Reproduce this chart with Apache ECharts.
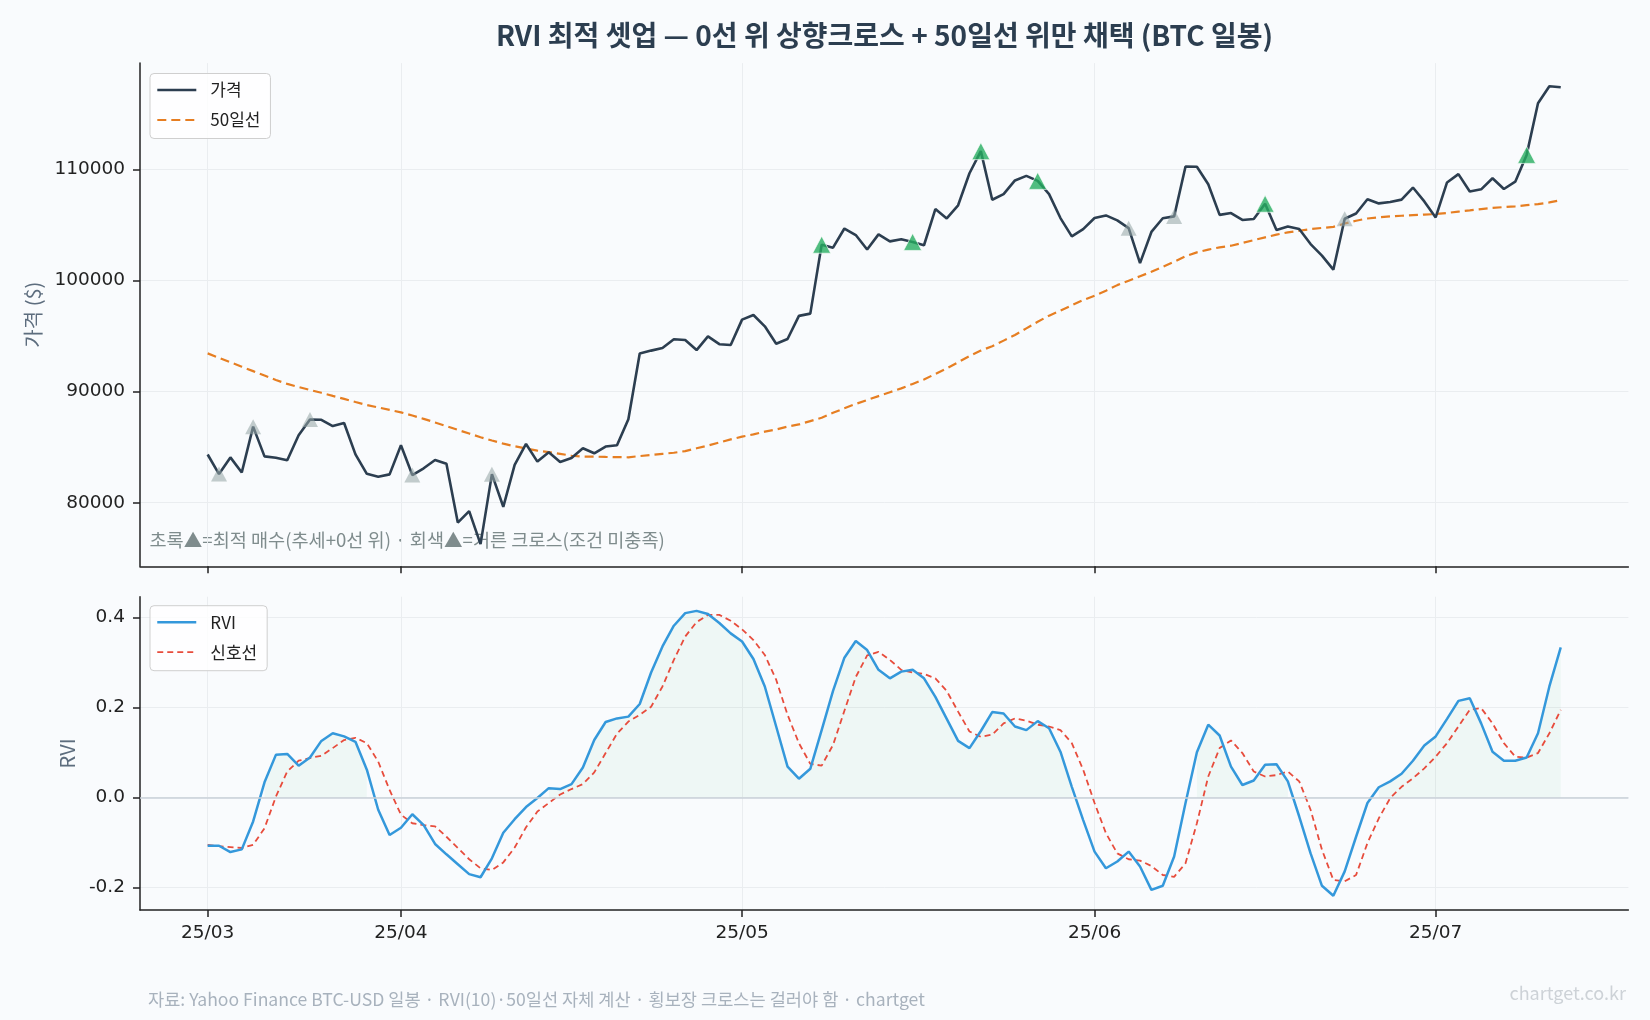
<!DOCTYPE html>
<html>
<head>
<meta charset="utf-8">
<script src="https://cdn.jsdelivr.net/npm/echarts@6/dist/echarts.min.js"></script>
<style>
html, body { margin: 0; padding: 0; background: #f9fbfd; }
#chart { width: 1650px; height: 1020px; }
</style>
</head>
<body>
<div id="chart"></div>
<script>
// x축은 일자 인덱스 (0 = 3/15 ... 119 = 7/12)
const tickPos = [0, 17, 47, 78, 108];
const tickLabels = ['25/03', '25/04', '25/05', '25/06', '25/07'];
const priceTicks = [80000, 90000, 100000, 110000];
const rviTicks = [-0.2, 0, 0.2, 0.4];

const price = [
  84340, 82580, 84080, 82720, 86850, 84170, 84050, 83830, 86080, 87500, 87470, 86900, 87180, 84350, 82600, 82330, 82550,
  85170, 82490, 83100, 83840, 83500, 78210, 79240, 76270, 82570, 79630, 83400, 85290, 83700, 84540, 83670,
  84030, 84900, 84450, 85060, 85170, 87520, 93440, 93700, 93940, 94720, 94650, 93750, 94980, 94280, 94210,
  96490, 96910, 95890, 94320, 94750, 96830, 97030, 103240, 102970, 104700, 104110, 102810, 104170, 103540, 103740,
  103490, 103190, 106450, 105610, 106790, 109680, 111670, 107290, 107790, 109030, 109440, 108990, 107800, 105640, 103990, 104640,
  105650, 105880, 105430, 104730, 101580, 104390, 105620, 105790, 110290, 110260, 108690, 105930, 106090, 105470, 105550,
  106930, 104560, 104880, 104660, 103300, 102260, 100990, 105580, 106050, 107340, 106960, 107090, 107300, 108390, 107140,
  105700, 108850, 109600, 108030, 108230, 109230, 108260, 108920, 111330, 115990, 117520, 117420
];

const ma50 = [
  93450, 93050, 92650, 92250, 91850, 91450, 91050, 90700, 90420, 90150, 89900, 89620, 89350, 89070, 88800, 88580, 88360,
  88140, 87850, 87550, 87230, 86900, 86560, 86230, 85900, 85600, 85320, 85080, 84880, 84690, 84550, 84400,
  84230, 84150, 84150, 84120, 84100, 84090, 84200, 84300, 84400, 84500, 84650, 84900, 85150, 85420, 85700,
  85950, 86150, 86400, 86600, 86850, 87050, 87350, 87650, 88100, 88500, 88900, 89250, 89600, 89950, 90300,
  90700, 91100, 91600, 92100, 92650, 93200, 93700, 94100, 94600, 95100, 95700, 96300, 96850, 97300, 97780, 98250,
  98650, 99100, 99600, 100000, 100400, 100800, 101250, 101700, 102200, 102550, 102800, 103000, 103150, 103400, 103650,
  103900, 104150, 104350, 104500, 104650, 104750, 104850, 105150, 105400, 105600, 105700, 105800, 105850, 105900, 105950,
  106000, 106100, 106220, 106330, 106450, 106550, 106630, 106700, 106800, 106900, 107050, 107250
];

const rvi = [
  -0.107, -0.107, -0.121, -0.115, -0.053, 0.034, 0.095, 0.097, 0.071, 0.089, 0.126, 0.143, 0.136, 0.124, 0.062, -0.027, -0.083,
  -0.067, -0.037, -0.061, -0.103, -0.126, -0.148, -0.170, -0.177, -0.135, -0.078, -0.048, -0.021, -0.001, 0.021, 0.019,
  0.030, 0.067, 0.128, 0.168, 0.176, 0.180, 0.208, 0.278, 0.336, 0.382, 0.410, 0.415, 0.408, 0.388, 0.365,
  0.347, 0.308, 0.247, 0.158, 0.069, 0.042, 0.064, 0.150, 0.237, 0.311, 0.348, 0.328, 0.284, 0.265, 0.280,
  0.284, 0.265, 0.224, 0.175, 0.126, 0.110, 0.148, 0.190, 0.187, 0.158, 0.150, 0.170, 0.154, 0.102, 0.024, -0.050,
  -0.120, -0.157, -0.142, -0.120, -0.153, -0.205, -0.196, -0.131, -0.012, 0.101, 0.162, 0.138, 0.069, 0.028, 0.038,
  0.073, 0.074, 0.036, -0.042, -0.124, -0.196, -0.218, -0.164, -0.087, -0.012, 0.023, 0.036, 0.053, 0.082, 0.116,
  0.136, 0.175, 0.215, 0.221, 0.165, 0.102, 0.082, 0.082, 0.089, 0.143, 0.247, 0.334
];

const signal = [
  -0.105, -0.108, -0.110, -0.112, -0.105, -0.068, 0.002, 0.058, 0.082, 0.088, 0.093, 0.110, 0.128, 0.133, 0.121, 0.080, 0.017,
  -0.038, -0.057, -0.061, -0.064, -0.087, -0.112, -0.137, -0.157, -0.161, -0.144, -0.111, -0.066, -0.031, -0.012, 0.007,
  0.019, 0.030, 0.056, 0.099, 0.142, 0.169, 0.184, 0.202, 0.247, 0.306, 0.358, 0.390, 0.406, 0.406, 0.393,
  0.374, 0.350, 0.317, 0.262, 0.184, 0.121, 0.075, 0.071, 0.117, 0.193, 0.268, 0.316, 0.324, 0.306, 0.284,
  0.278, 0.275, 0.265, 0.237, 0.191, 0.147, 0.135, 0.140, 0.165, 0.176, 0.171, 0.162, 0.158, 0.150, 0.121, 0.062,
  -0.012, -0.079, -0.124, -0.137, -0.140, -0.152, -0.172, -0.176, -0.146, -0.057, 0.047, 0.110, 0.127, 0.099, 0.058,
  0.047, 0.050, 0.058, 0.036, -0.027, -0.116, -0.183, -0.186, -0.172, -0.101, -0.046, -0.001, 0.024, 0.043, 0.065,
  0.091, 0.121, 0.158, 0.195, 0.199, 0.165, 0.121, 0.091, 0.089, 0.099, 0.143, 0.195
];

// 신호 위치 (인덱스)
const greenIdx = [54, 62, 68, 73, 93, 116];
const grayIdx = [1, 4, 9, 18, 25, 81, 85, 100];

const KR = '"Noto Sans CJK KR", "Noto Sans", sans-serif';
const NUM = '"DejaVu Sans", sans-serif';
const AXIS_COLOR = '#222';
const GRID_COLOR = '#eaedf0';

const xy = arr => arr.map((v, i) => [i, v]);

function xAxisCfg(idx, showLabel) {
  return {
    gridIndex: idx, type: 'value', min: -5.95, max: 124.95,
    axisLine: { show: true, onZero: false, lineStyle: { color: AXIS_COLOR, width: 1.5 } },
    axisTick: { show: true, customValues: tickPos, length: 7, lineStyle: { color: AXIS_COLOR, width: 1.5 } },
    axisLabel: {
      show: showLabel, customValues: tickPos, margin: 14,
      formatter: v => tickLabels[tickPos.indexOf(v)] || '',
      fontFamily: NUM, fontSize: 18.5, color: AXIS_COLOR
    },
    splitLine: { show: true, lineStyle: { color: GRID_COLOR, width: 1 } }
  };
}

function yAxisCfg(idx, min, max, ticks, fmt, name, gap) {
  return {
    gridIndex: idx, type: 'value', min: min, max: max,
    name: name, nameLocation: 'middle', nameGap: gap, nameRotate: 90,
    nameTextStyle: { fontFamily: KR, fontSize: 20, color: '#5d6d7e' },
    axisLine: { show: true, onZero: false, lineStyle: { color: AXIS_COLOR, width: 1.5 } },
    axisTick: { show: true, customValues: ticks, length: 7, lineStyle: { color: AXIS_COLOR, width: 1.5 } },
    axisLabel: { customValues: ticks, margin: 15, formatter: fmt, fontFamily: NUM, fontSize: 18.5, color: AXIS_COLOR },
    splitLine: { show: true, lineStyle: { color: GRID_COLOR, width: 1 } }
  };
}

const legendBase = {
  orient: 'vertical', left: 150,
  padding: [8, 10, 10, 6], itemGap: 13, itemWidth: 39, itemHeight: 16,
  itemStyle: { opacity: 0 },
  lineStyle: { width: 2.6 },
  backgroundColor: 'rgba(255,255,255,0.8)', borderColor: '#cfcfcf', borderWidth: 1, borderRadius: 4,
  textStyle: { fontFamily: KR, fontSize: 17, color: '#222', padding: [0, 0, 0, 9] }
};

const chart = echarts.init(document.getElementById('chart'), null, { renderer: 'canvas' });

chart.setOption({
  backgroundColor: '#f9fbfd',
  animation: false,
  grid: [
    { left: 140, right: 21.6, top: 63.1, height: 503.2 },
    { left: 140, right: 21.6, top: 596.7, height: 313.4 }
  ],
  xAxis: [xAxisCfg(0, false), xAxisCfg(1, true)],
  yAxis: [
    yAxisCfg(0, 74270, 119600, priceTicks, v => String(v), '가격 ($)', 97),
    yAxisCfg(1, -0.25, 0.4465, rviTicks, v => v.toFixed(1), 'RVI', 62.5)
  ],
  legend: [
    Object.assign({}, legendBase, {
      top: 73.5,
      data: [
        { name: '가격', lineStyle: { width: 2.6 } },
        { name: '50일선', lineStyle: { width: 2.2 } }
      ]
    }),
    Object.assign({}, legendBase, {
      top: 605.7,
      data: [
        { name: 'RVI', lineStyle: { width: 2.5 } },
        { name: '신호선', lineStyle: { width: 1.8 } }
      ]
    })
  ],
  series: [
    {
      name: '50일선', type: 'line', xAxisIndex: 0, yAxisIndex: 0,
      data: xy(ma50), symbol: 'none', z: 2,
      lineStyle: { color: '#e67e22', width: 2.2, type: [9, 5] }, itemStyle: { color: '#e67e22' }
    },
    {
      name: '가격', type: 'line', xAxisIndex: 0, yAxisIndex: 0,
      data: xy(price), symbol: 'none', z: 3,
      lineStyle: { color: '#2c3e50', width: 2.6 }, itemStyle: { color: '#2c3e50' }
    },
    {
      name: '거른 크로스', type: 'scatter', xAxisIndex: 0, yAxisIndex: 0,
      data: grayIdx.map(i => [i, price[i]]), symbol: 'triangle', symbolSize: [16, 15], z: 4,
      itemStyle: { color: 'rgba(149,165,166,0.7)' }
    },
    {
      name: '최적 매수', type: 'scatter', xAxisIndex: 0, yAxisIndex: 0,
      data: greenIdx.map(i => [i, price[i]]), symbol: 'triangle', symbolSize: [18, 17], z: 5,
      itemStyle: { color: '#27ae60', borderColor: '#ffffff', borderWidth: 0.8 }
    },
    {
      name: 'RVI>0', type: 'line', xAxisIndex: 1, yAxisIndex: 1,
      data: rvi.map((v, i) => [i, v > 0 ? v : null]), symbol: 'none', connectNulls: false, z: 1,
      lineStyle: { width: 0, opacity: 0 },
      areaStyle: { color: 'rgba(39,174,96,0.07)', origin: 0 },
      markLine: {
        silent: true, symbol: 'none', label: { show: false },
        lineStyle: { color: '#c9d1d9', width: 1.5, type: 'solid' },
        data: [{ yAxis: 0 }]
      }
    },
    {
      name: '신호선', type: 'line', xAxisIndex: 1, yAxisIndex: 1,
      data: xy(signal), symbol: 'none', z: 2,
      lineStyle: { color: '#e74c3c', width: 1.8, type: [6, 4] }, itemStyle: { color: '#e74c3c' }
    },
    {
      name: 'RVI', type: 'line', xAxisIndex: 1, yAxisIndex: 1,
      data: xy(rvi), symbol: 'none', z: 3,
      lineStyle: { color: '#3498db', width: 2.5 }, itemStyle: { color: '#3498db' }
    }
  ],
  graphic: [
    {
      type: 'text', x: 884.5, y: 35, z: 10,
      style: {
        text: 'RVI 최적 셋업 — 0선 위 상향크로스 + 50일선 위만 채택 (BTC 일봉)',
        fontFamily: KR, fontSize: 28, fontWeight: 'bold', fill: '#2c3e50',
        textAlign: 'center', textVerticalAlign: 'middle'
      }
    },
    {
      type: 'text', x: 149.5, y: 540, z: 0,
      style: {
        text: '초록▲=최적 매수(추세+0선 위) · 회색▲=거른 크로스(조건 미충족)',
        fontFamily: KR, fontSize: 18.6, fill: '#7f8c8d',
        textAlign: 'left', textVerticalAlign: 'middle'
      }
    },
    {
      type: 'text', x: 148, y: 999, z: 10,
      style: {
        text: '자료: Yahoo Finance BTC-USD 일봉 · RVI(10)·50일선 자체 계산 · 횡보장 크로스는 걸러야 함 · chartget',
        fontFamily: KR, fontSize: 17.6, fill: '#a8b2bd',
        textAlign: 'left', textVerticalAlign: 'middle'
      }
    },
    {
      type: 'text', x: 1626, y: 993, z: 10,
      style: {
        text: 'chartget.co.kr',
        fontFamily: KR, fontSize: 18, fill: '#cdd2d7',
        textAlign: 'right', textVerticalAlign: 'middle'
      }
    }
  ]
});
</script>
</body>
</html>
